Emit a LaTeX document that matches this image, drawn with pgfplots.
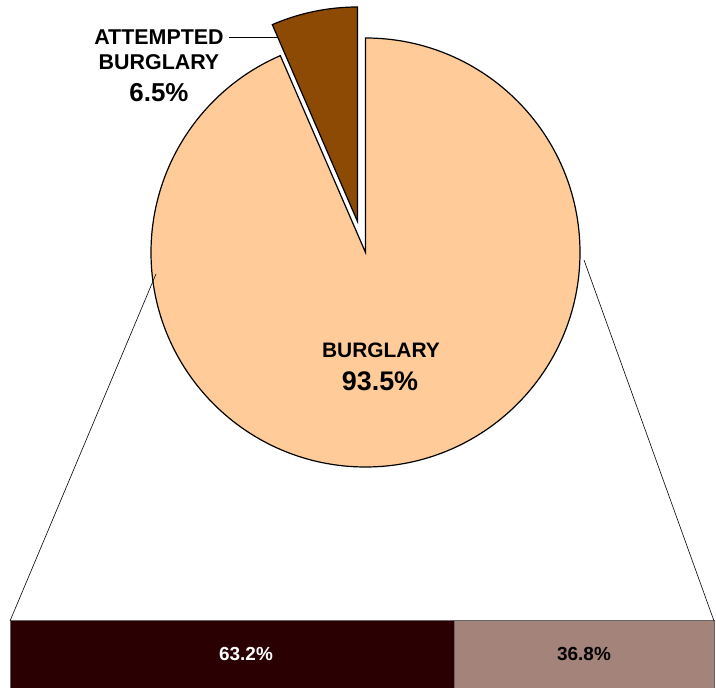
\documentclass[border=0pt]{standalone}
\usepackage{pgfplots}
\pgfplotsset{compat=1.18}
\usepackage{pgfplotstable}
\usepackage{fontspec}
\setmainfont{Liberation Sans}
\definecolor{Peach}{HTML}{FFCC99}
\definecolor{Brown}{HTML}{8C4A04}
\definecolor{Maroon}{HTML}{2B0002}
\definecolor{Taupe}{HTML}{A3837A}

% pie: share of each category (percent)
\pgfplotstableread{
cat       val
burglary  93.5
attempted 6.5
}\pietable
% bar: split of the burglary slice (percent)
\pgfplotstableread{
y a b
0 63.2 36.8
}\bartable

\pgfplotstablegetelem{0}{val}\of\pietable \let\vBurg\pgfplotsretval
\pgfplotstablegetelem{1}{val}\of\pietable \let\vAtt\pgfplotsretval
\pgfmathsetmacro{\angB}{3.6*\vBurg}
\pgfmathsetmacro{\angA}{3.6*\vAtt}

\newcommand{\lbl}[1]{\fontsize{#1}{#1}\selectfont\bfseries}

\begin{document}
\begin{tikzpicture}
\useasboundingbox (0,0) rectangle (716bp,688bp);
% stacked bar below
\begin{axis}[
    at={(10bp,0)}, anchor=south west,
    width=704bp, height=67bp, scale only axis,
    xbar stacked, bar width=1,
    xmin=0, xmax=100, ymin=-0.5, ymax=0.5,
    hide axis, clip=false,
]
    \addplot[fill=Maroon, draw=black!60, line width=1bp] table[x=a, y=y] {\bartable};
    \addplot[fill=Taupe, draw=black!60, line width=1bp] table[x=b, y=y] {\bartable};
\end{axis}
% pie, one axis unit = 1bp
\begin{axis}[
    at={(0,0)}, anchor=south west,
    width=716bp, height=688bp, scale only axis,
    xmin=0, xmax=716, ymin=0, ymax=688,
    hide axis, clip=false,
]
    \filldraw[fill=Peach, draw=black, line width=1.2bp]
        (axis cs:365.5,435.5) -- ++(90:214.5bp)
        arc[start angle=90, delta angle=-\angB, radius=214.5bp] -- cycle;
    \filldraw[fill=Brown, draw=black, line width=1.2bp]
        (axis cs:357.5,466.5) -- ++(90:214.5bp)
        arc[start angle=90, delta angle=\angA, radius=214.5bp] -- cycle;
    % connectors to the bar
    \draw[black, line width=0.6bp] (axis cs:156,414) -- (axis cs:10,67);
    \draw[black, line width=0.6bp] (axis cs:584,428) -- (axis cs:714,67);
    % labels
    \node[font=\lbl{21}] at (axis cs:381,338) {BURGLARY};
    \node[font=\lbl{27}] at (axis cs:380,307) {\vBurg\%};
    \node[font=\lbl{21.5}] at (axis cs:159,651) {ATTEMPTED};
    \node[font=\lbl{21.5}] at (axis cs:159,626) {BURGLARY};
    \node[font=\lbl{26}] at (axis cs:159,595) {\vAtt\%};
    \draw[black, line width=0.6bp] (axis cs:229,651) -- (axis cs:278,651);
    % bar labels (bar spans x 10..714, y 0..67)
    \node[font=\lbl{19}, text=white] at (axis cs:246,34) {63.2\%};
    \node[font=\lbl{19}, text=black] at (axis cs:584,34) {36.8\%};
\end{axis}
\end{tikzpicture}
\end{document}
